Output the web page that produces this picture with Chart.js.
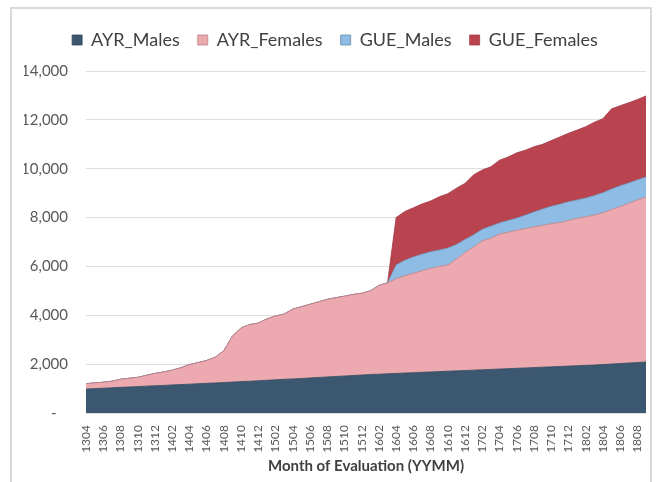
<!DOCTYPE html>
<html>
<head>
<meta charset="utf-8">
<script src="https://cdn.jsdelivr.net/npm/chart.js@4.4.0/dist/chart.umd.min.js"></script>
<style>
  html, body { margin: 0; padding: 0; background: #fff; }
  #wrap { position: relative; width: 656px; height: 482px; overflow: hidden; }
  #frame { position: absolute; left: 10px; top: 7px; width: 642px; height: 482px; border: 2px solid #d9d9d9; box-sizing: border-box; }
  canvas { position: absolute; left: 0; top: 0; }
</style>
</head>
<body>
<div id="wrap">
  <div id="frame"></div>
  <canvas id="chart" width="656" height="482"></canvas>
</div>
<script>
// Month of evaluation (YYMM)
const months = [
  "1304","1305","1306","1307","1308","1309","1310","1311","1312",
  "1401","1402","1403","1404","1405","1406","1407","1408","1409","1410","1411","1412",
  "1501","1502","1503","1504","1505","1506","1507","1508","1509","1510","1511","1512",
  "1601","1602","1603","1604","1605","1606","1607","1608","1609","1610","1611","1612",
  "1701","1702","1703","1704","1705","1706","1707","1708","1709","1710","1711","1712",
  "1801","1802","1803","1804","1805","1806","1807","1808","1809"
];

const ayrMales = [
  980,1000,1015,1030,1050,1065,1080,1100,1115,1130,
  1150,1165,1180,1200,1215,1230,1250,1265,1285,1300,
  1320,1340,1360,1380,1395,1415,1435,1455,1475,1495,
  1515,1535,1555,1575,1590,1605,1620,1635,1650,1665,
  1680,1695,1710,1725,1740,1755,1770,1785,1800,1815,
  1830,1845,1860,1875,1890,1905,1920,1935,1950,1965,
  1985,2005,2025,2045,2065,2090
];

const ayrFemales = [
  220,230,245,270,330,355,380,440,505,550,
  600,685,800,860,935,1050,1300,1885,2195,2320,
  2360,2510,2610,2670,2855,2935,3015,3095,3175,3225,
  3265,3315,3345,3425,3630,3725,3880,3985,4070,4155,
  4240,4305,4350,4575,4830,5045,5280,5365,5530,5585,
  5650,5705,5760,5805,5860,5895,5960,6035,6080,6135,
  6215,6325,6425,6535,6655,6750
];

const gueMales = [
  0,0,0,0,0,0,0,0,0,0,
  0,0,0,0,0,0,0,0,0,0,
  0,0,0,0,0,0,0,0,0,0,
  0,0,0,0,0,0,560,630,670,680,
  680,670,690,600,530,500,470,500,450,480,
  500,550,610,670,710,750,770,750,770,800,
  820,840,850,840,820,820
];

const gueFemales = [
  0,0,0,0,0,0,0,0,0,0,
  0,0,0,0,0,0,0,0,0,0,
  0,0,0,0,0,0,0,0,0,0,
  0,0,0,0,0,0,1940,2000,2010,2060,
  2080,2180,2230,2300,2300,2450,2430,2430,2570,2600,
  2670,2660,2670,2650,2690,2750,2800,2860,2920,3000,
  3030,3280,3280,3280,3290,3320
];

const txt = "#595959";
const font = "Lato, 'Open Sans', sans-serif";

// push the plot area down below the legend
const legendSpacer = {
  id: "legendSpacer",
  beforeInit(chart) {
    const fit = chart.legend.fit;
    chart.legend.fit = function () {
      fit.call(this);
      this.height += 12;
    };
  }
};

const ctx = document.getElementById("chart").getContext("2d");
const chart = new Chart(ctx, {
  type: "line",
  data: {
    labels: months,
    datasets: [
      { label: "AYR_Males", data: ayrMales, backgroundColor: "#3c5770", borderColor: "#34495d", fill: "origin" },
      { label: "AYR_Females", data: ayrFemales, backgroundColor: "#eda9b0", borderColor: "#b98088", fill: "-1" },
      { label: "GUE_Males", data: gueMales, backgroundColor: "#8ebce4", borderColor: "#6b8fb0", fill: "-1" },
      { label: "GUE_Females", data: gueFemales, backgroundColor: "#b9434f", borderColor: "#a33a45", fill: "-1" }
    ]
  },
  plugins: [legendSpacer],
  options: {
    responsive: false,
    animation: false,
    layout: { padding: { left: 24, right: 10, top: 13, bottom: 0 } },
    elements: {
      point: { radius: 0 },
      line: { tension: 0, borderWidth: 0.8 }
    },
    plugins: {
      tooltip: { enabled: false },
      legend: {
        labels: {
          boxWidth: 10,
          boxHeight: 10,
          padding: 18,
          color: "#404040",
          font: { family: font, size: 18 }
        }
      }
    },
    scales: {
      x: {
        grid: { display: false, drawTicks: false },
        border: { display: false },
        ticks: {
          autoSkip: false,
          minRotation: 90,
          maxRotation: 90,
          padding: 12,
          color: txt,
          font: { family: font, size: 12 },
          callback: (v, i) => (i % 2 === 0 ? months[i] : "")
        },
        title: {
          display: true,
          text: "Month of Evaluation (YYMM)",
          color: "#404040",
          font: { family: font, size: 15, weight: "bold" },
          padding: { top: 0, bottom: 7 }
        },
        afterFit: (s) => {
          s.height = 69;
          s.paddingLeft = 0;
          s.paddingRight = 0;
        }
      },
      y: {
        stacked: true,
        min: 0,
        max: 14000,
        grid: { color: "#dedede", drawTicks: false },
        border: { display: false },
        ticks: {
          stepSize: 2000,
          padding: 18,
          color: txt,
          font: { family: font, size: 15 },
          callback: (v) => (v === 0 ? "-   " : v.toLocaleString("en-US"))
        },
        afterFit: (s) => { s.width = 62; }
      }
    }
  }
});
</script>
</body>
</html>
